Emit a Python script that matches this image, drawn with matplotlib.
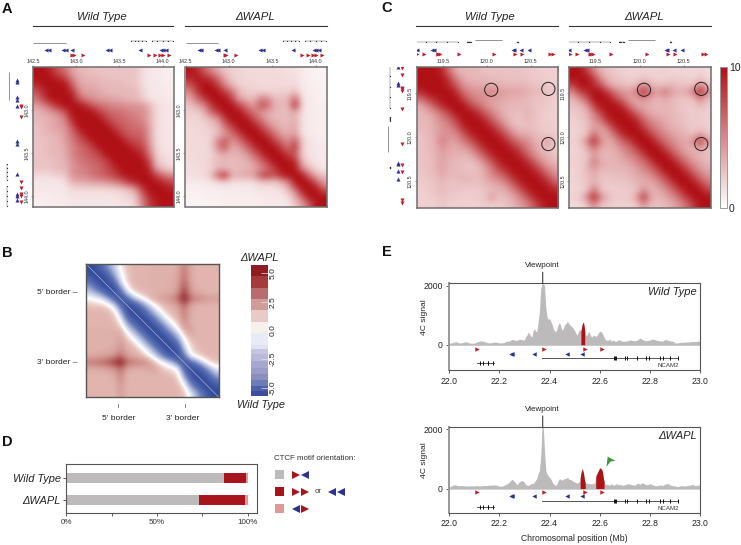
import numpy as np
import matplotlib
matplotlib.use("Agg")
import matplotlib.pyplot as plt
from matplotlib.colors import LinearSegmentedColormap, ListedColormap, BoundaryNorm

plt.rcParams["font.family"] = ["Liberation Sans", "DejaVu Sans"]

W, H = 741, 545

# ── Hi-C maps, upper triangles (0-10) ─────────────────────────────────────────
a_wt = [
    [10, 10, 9, 7, 6, 4, 3, 3, 2.5, 2.5, 2.5, 2.5, 2.5, 2.5, 2.5, 1.5, 1, 1, .8, .6],
    [10, 10, 9, 8, 5, 3.5, 3, 3, 3, 2.5, 2.5, 2.5, 2.5, 2.5, 1.5, 1, 1, .8, .8],
    [10, 10, 10, 7, 4, 3.5, 3.5, 3, 3, 3, 3, 2.5, 2.5, 1.5, 1, 1, .8, .8],
    [10, 10, 9, 5, 4, 4, 3.5, 3, 3, 3, 3, 3, 2, 1, 1, 1, .8],
    [10, 10, 7, 5, 4.5, 4, 4, 3.5, 3.5, 3, 3, 2, 1.2, 1, 1, .8],
    [10, 10, 9, 7, 6, 5.5, 5, 5, 4.5, 4.5, 4.5, 3, 1.5, 1.2, 1],
    [10, 10, 10, 8, 7, 6, 6, 5.5, 5, 5, 3.5, 1.5, 1.2, 1],
    [10, 10, 10, 8, 7, 6.5, 6, 5.5, 5, 3.5, 1.5, 1.2, 1],
    [10, 10, 10, 8, 7, 6.5, 6, 6, 4, 1.5, 1.2, 1],
    [10, 10, 10, 8, 7, 6.5, 6.5, 4, 1.5, 1.2, 1],
    [10, 10, 10, 8, 7.5, 7, 4.5, 1.5, 1.2, 1],
    [10, 10, 10, 8.5, 8, 5, 1.6, 1.2, 1],
    [10, 10, 10, 9, 6, 2, 1.5, 1.2],
    [10, 10, 10, 8, 2.5, 1.8, 1.2],
    [10, 10, 9, 4, 2.5, 1.8],
    [10, 10, 8, 6, 5],
    [10, 10, 9, 8],
    [10, 10, 9.5],
    [10, 10],
    [10],
]
a_wapl = [
    [10, 9, 7, 5, 3.5, 2.5, 2, 1.8, 1.6, 1.6, 1.6, 1.5, 1.5, 1.5, 1.3, 1.3, .8, .7, .6, .5],
    [10, 9, 8, 6, 3.5, 2, 1.8, 1.6, 1.6, 1.6, 1.5, 1.5, 1.6, 1.4, 1.5, .8, .7, .6, .5],
    [10, 10, 8, 5, 3, 2, 1.8, 1.7, 1.6, 1.6, 1.6, 1.6, 1.5, 1.6, .9, .7, .6, .6],
    [10, 10, 8, 6, 3, 2.2, 2, 1.8, 1.8, 1.8, 2, 1.8, 2.5, 1, .8, .7, .6],
    [10, 10, 8, 4, 3, 2.6, 5, 5, 2.8, 2.8, 3, 6.5, 1.2, .8, .7, .6],
    [10, 10, 8, 6, 4, 7, 7, 3.5, 3, 3, 9, 1.5, .9, .8, .7],
    [10, 10, 8, 6, 4.5, 3.5, 3, 2.8, 2.8, 3.5, 1.2, .8, .8, .7],
    [10, 10, 8, 6, 4, 3.2, 3, 2.8, 3.5, 1.2, .9, .8, .7],
    [10, 10, 8, 6, 4, 3.2, 3, 3.8, 1.2, .9, .8, .7],
    [10, 10, 8, 6, 4, 3.5, 4, 1.2, .9, .8, .7],
    [10, 10, 8, 6, 4.5, 7, 2, 1.2, .9, .8],
    [10, 10, 8, 6, 8.5, 2, 1.2, 1, .9],
    [10, 10, 8, 7, 2, 1.2, 1, .9],
    [10, 10, 9, 3, 1.5, 1, .9],
    [10, 10, 5, 3, 1.5, 1],
    [10, 10, 6, 3.5, 2.5],
    [10, 10, 7, 4],
    [10, 10, 7],
    [10, 10],
    [10],
]
c_wt = [
    [10, 10, 10, 9, 6, 3.5, 3, 3, 3, 2.5, 2.5, 2.5, 2.5, 2.5, 2.5, 2.2, 2.2, 2, 2, 2],
    [10, 10, 10, 8, 5, 3.5, 3, 3, 3, 2.8, 2.8, 2.6, 2.6, 2.6, 2.5, 2.2, 2.2, 2, 2],
    [10, 10, 9, 7, 4.5, 3.8, 3.5, 3.5, 3.2, 3.2, 3, 3, 3, 2.8, 2.5, 2.5, 2.2, 2],
    [10, 10, 9, 6, 5, 4.5, 4.5, 5.5, 4.5, 4, 4, 4, 3.5, 3, 3, 2.5, 2.5],
    [10, 10, 8, 6, 5, 4.5, 4, 3.8, 3.5, 3.2, 3, 3, 2.5, 2.5, 2.2, 2],
    [10, 10, 8, 6.5, 5, 4, 3.5, 3.2, 3, 3, 3, 2.5, 2.5, 2.2, 2],
    [10, 10, 9, 7, 5.5, 4, 3, 2.8, 2.6, 3.2, 2.8, 2.2, 2, 2],
    [10, 10, 9, 7, 5, 3.5, 2.6, 2.4, 3, 2.6, 2.2, 2, 2],
    [10, 10, 9, 7, 5, 3.2, 2.6, 2.8, 2.6, 2.2, 2.2, 2],
    [10, 10, 9, 7, 5, 3.5, 3.5, 3, 2.5, 2.2, 2.2],
    [10, 10, 9, 7, 5.5, 5, 3.5, 2.8, 4.5, 2],
    [10, 10, 9, 7.5, 5.5, 4, 3.2, 2.5, 2.2],
    [10, 10, 9, 7, 5, 3.5, 3, 2.5],
    [10, 10, 9, 7, 5, 3.5, 3],
    [10, 10, 9, 7, 5, 4],
    [10, 10, 9, 7, 5],
    [10, 10, 9, 7],
    [10, 10, 9],
    [10, 10],
    [10],
]
c_wapl = [
    [10, 10, 8, 5, 3, 2.5, 2.2, 2, 1.8, 1.8, 2, 1.8, 1.8, 2, 1.8, 1.8, 1.8, 1.6, 2, 1.5],
    [10, 10, 8, 4.5, 3, 2.4, 2.2, 2, 2, 2.2, 2, 2, 2, 2, 2, 2, 1.8, 2.2, 1.6],
    [10, 9, 7, 4, 3, 2.8, 2.5, 2.5, 5, 3, 2.5, 2.5, 3, 2.5, 2.5, 2.2, 5, 2.2],
    [10, 10, 8, 5.5, 4.5, 4, 6, 9, 6, 4, 6, 4, 3.5, 3.5, 6, 9.5, 5],
    [10, 10, 8, 6, 4, 3.5, 5, 3.5, 3, 3.5, 3, 2.5, 2.5, 2.5, 5, 2.5],
    [10, 10, 9, 6, 4, 3.5, 3.2, 3, 3.2, 3, 2.5, 2.2, 2.2, 3, 2.2],
    [10, 10, 9, 6.5, 4.5, 3.5, 3.2, 3.2, 3, 2.6, 2.4, 2, 2.2, 2],
    [10, 10, 9, 6.5, 5, 4, 3.5, 3, 2.8, 2.4, 2.2, 2.2, 2],
    [10, 10, 8, 6, 5, 4, 3.2, 3, 2.6, 2.2, 2.2, 2],
    [10, 10, 8, 6, 5, 4, 3.5, 3, 2.5, 4, 2.2],
    [10, 10, 8, 6, 5, 4, 3.5, 5, 8.5, 4.5],
    [10, 10, 8, 6, 4.5, 3.5, 3, 4, 2.6],
    [10, 10, 8, 6, 4.5, 3.5, 3, 2.6],
    [10, 10, 8, 6, 4.5, 3.5, 3],
    [10, 10, 8, 6, 4.5, 3.5],
    [10, 10, 8, 6, 4.5],
    [10, 10, 8, 6],
    [10, 10, 8],
    [10, 10],
    [10],
]
# aggregate map of panel B, log2 difference
b_delta = [
    [-5.7, -5.2, -4, -2.6, -1.2, .2, 1.2, 1.5, 1.5, 1.5, 1.6, 1.6, 1.6, 1.6, 1.8, 3, 1.8, 1.5, 1.5, 1.5, 1.5],
    [-5.7, -5.2, -4, -2, -.2, 1.0, 1.5, 1.5, 1.5, 1.6, 1.6, 1.6, 1.6, 1.8, 3.2, 1.8, 1.5, 1.5, 1.5, 1.5],
    [-5.7, -5.2, -3.2, -.6, .9, 1.5, 1.5, 1.5, 1.6, 1.6, 1.6, 1.7, 1.9, 3.4, 1.9, 1.5, 1.5, 1.5, 1.5],
    [-5.7, -5, -2, .3, 1.4, 1.5, 1.5, 1.6, 1.6, 1.6, 1.7, 2, 4, 2, 1.6, 1.5, 1.5, 1.5],
    [-5.7, -4.2, -1, .5, 1.2, 1.5, 1.6, 1.6, 1.7, 1.8, 2.4, 4.8, 2.4, 1.8, 1.6, 1.5, 1.5],
    [-5.7, -4.2, -2, -.6, .5, 1.6, 2, 2.2, 2.5, 3.4, 5.75, 3.4, 2.8, 2.5, 2.2, 2.2],
    [-5.7, -5.2, -3.8, -2, -.4, .8, 1.5, 1.7, 2, 3.6, 1.9, 1.5, 1.5, 1.5, 1.5],
    [-5.7, -5.2, -3.8, -2, -.4, .8, 1.5, 1.8, 3, 1.7, 1.5, 1.5, 1.5, 1.5],
    [-5.7, -5.2, -3.8, -2, -.4, .8, 1.5, 2.8, 1.7, 1.5, 1.5, 1.5, 1.5],
    [-5.7, -5.2, -3.8, -2, -.4, .8, 2.6, 1.7, 1.5, 1.5, 1.5, 1.5],
    [-5.7, -5.2, -3.8, -2, -.4, 1.6, 2.2, 1.5, 1.5, 1.5, 1.5],
    [-5.7, -5.2, -3.8, -2, .3, 1.6, 1.5, 1.5, 1.5, 1.5],
    [-5.7, -5.2, -3.8, -.5, .8, 1.5, 1.5, 1.5, 1.5],
    [-5.7, -5.2, -1.6, .5, 1.2, 1.5, 1.5, 1.5],
    [-5.7, -3.6, -.2, .6, 1.2, 1.5, 1.5],
    [-5.7, -4.2, -2.6, -.8, .6, 1.2],
    [-5.7, -5.2, -3.8, -2, -.4],
    [-5.7, -5.2, -3.8, -2],
    [-5.7, -5.2, -3.8],
    [-5.7, -5.2],
    [-5.7],
]
b_bounds = [-5.73, -5.3, -4.85, -4.32, -3.82, -3.24, -2.65, -2.06, -1.6, -1.24, -.2, .74, 1.76, 2.76, 3.76, 4.76, 5.73]
b_colors = ["#3a4f9e", "#4f60a8", "#6c7cb8", "#8a8fc0", "#9a9dc8", "#a6a8d0", "#b9b9da", "#c5c5e0",
            "#dfe4f3", "#e8ebf5", "#f7f1ee", "#e8cbc9", "#cf9c99", "#b86c6d", "#a5393c", "#8e1c22"]

# ── Motifs and genes (Mb) ─────────────────────────────────────────────────────
a_blue = [142.65, 142.68, 142.85, 142.88, 142.95, 143.36, 143.39, 143.74, 143.98, 144.0, 144.04]
a_red = [142.95, 142.97, 143.08, 143.84, 143.91, 143.97, 144.0, 144.07]
a_scale = [(142.5, 142.88)]
a_genes = [(143.63, 143.81), (143.88, 144.12)]
c_blue = [119.2, 119.38, 119.4, 120.3, 120.31, 120.39, 120.48]
c_red = [119.21, 119.29, 119.44, 119.45, 119.47, 119.68, 120.08, 120.32, 120.4, 120.72, 120.75]
c_scale = [(119.87, 120.17)]
c_genes = [(119.18, 119.67), (119.77, 119.82), (120.345, 120.355)]
c_circles = [(120.05, 119.46), (120.7, 119.45), (120.7, 120.08)]

# ── Panel D ───────────────────────────────────────────────────────────────────
d_labels = ["\u0394WAPL", "Wild Type"]
d_gray = [73.1, 86.9]
d_red = [25.2, 12.0]
d_pink = [1.7, 1.1]

# ── 4C signal ─────────────────────────────────────────────────────────────────
e_x = [22.00, 22.01, 22.02, 22.03, 22.04, 22.05, 22.06, 22.07, 22.08, 22.09,
       22.10, 22.11, 22.12, 22.13, 22.14, 22.15, 22.16, 22.17, 22.18, 22.19,
       22.20, 22.21, 22.22, 22.23, 22.24, 22.25, 22.26, 22.27, 22.28, 22.29,
       22.300, 22.305, 22.310, 22.315, 22.320, 22.325, 22.330, 22.335, 22.340, 22.345,
       22.350, 22.355, 22.360, 22.365, 22.370, 22.375, 22.380, 22.385, 22.390, 22.395,
       22.400, 22.405, 22.410, 22.415, 22.420, 22.425, 22.430, 22.435, 22.440, 22.445,
       22.450, 22.455, 22.460, 22.465, 22.470, 22.475, 22.480, 22.485, 22.490, 22.495,
       22.500, 22.505, 22.510, 22.515, 22.520, 22.525, 22.530, 22.535, 22.540, 22.545,
       22.550, 22.555, 22.560, 22.565, 22.570, 22.575, 22.580, 22.585, 22.590, 22.595,
       22.600, 22.605, 22.610, 22.615, 22.620, 22.625, 22.630, 22.635, 22.640, 22.645,
       22.650, 22.655, 22.660, 22.665, 22.670, 22.675, 22.680, 22.685, 22.690, 22.695,
       22.70, 22.71, 22.72, 22.73, 22.74, 22.75, 22.76, 22.77, 22.78, 22.79,
       22.80, 22.81, 22.82, 22.83, 22.84, 22.85, 22.86, 22.87, 22.88, 22.89,
       22.90, 22.91, 22.92, 22.93, 22.94, 22.95, 22.96, 22.97, 22.98, 22.99, 23.00]
e_wt = [60, 70, 100, 110, 70, 70, 100, 110, 70, 60,
        60, 100, 130, 140, 110, 90, 70, 80, 100, 90,
        70, 70, 90, 130, 130, 190, 170, 150, 200, 180,
        170, 280, 330, 430, 380, 300, 280, 480, 550, 450,
        480, 800, 1150, 1900, 2050, 2080, 2000, 1300, 950, 860,
        900, 800, 700, 550, 480, 450, 550, 700, 760, 620,
        500, 560, 680, 720, 790, 760, 680, 650, 600, 560,
        480, 400, 330, 450, 520, 480, 700, 780, 500, 320,
        340, 470, 380, 290, 280, 340, 310, 290, 330, 420,
        460, 450, 400, 290, 210, 170, 160, 170, 200, 130,
        160, 150, 130, 120, 150, 180, 170, 140, 130, 120,
        130, 140, 170, 150, 140, 170, 240, 180, 150, 150,
        170, 200, 180, 150, 140, 130, 190, 160, 140, 130,
        70, 70, 90, 90, 100, 100, 110, 120, 110, 130, 120]
e_wapl = [60, 90, 130, 120, 100, 110, 100, 90, 90, 100,
          90, 110, 90, 100, 110, 110, 120, 120, 130, 110,
          90, 80, 120, 160, 220, 320, 250, 130, 230, 280,
          220, 130, 120, 110, 130, 170, 180, 170, 230, 290,
          360, 520, 620, 1100, 2080, 2080, 1300, 620, 500, 430,
          380, 330, 240, 170, 130, 110, 170, 280, 340, 300,
          290, 310, 350, 340, 380, 350, 300, 320, 270, 250,
          220, 200, 190, 210, 260, 520, 680, 530, 250, 180,
          190, 170, 170, 160, 170, 170, 200, 440, 530, 620,
          700, 680, 600, 310, 170, 130, 160, 120, 130, 170,
          140, 120, 130, 170, 150, 130, 150, 130, 110, 130,
          120, 170, 150, 130, 120, 190, 150, 200, 150, 130,
          170, 130, 100, 100, 130, 110, 150, 180, 120, 100,
          90, 70, 100, 100, 90, 110, 120, 150, 100, 120, 130]
e_red_wt = [(22.525, 22.54)]
e_red_wapl = [(22.522, 22.542), (22.584, 22.617)]
e_motif_red = [22.113, 22.38, 22.542, 22.61]
e_motif_blue = [22.245, 22.25, 22.339, 22.47, 22.53]
ncam2 = (22.37, 22.911)
ncam2_exons = [22.655, 22.66, 22.665, 22.699, 22.709, 22.748, 22.785, 22.794, 22.841, 22.85, 22.88, 22.911]
gene2 = (22.113, 22.18)
gene2_exons = [22.123, 22.135, 22.154, 22.157, 22.177]

RED = "#b01116"
BLUE = "#2e3192"
MOTIF_RED = "#be1e2d"
GRAY = "#bcbaba"
FRAME = "#6e6e6e"
hic_cmap = LinearSegmentedColormap.from_list("hic", ["#ffffff", RED])
delta_cmap = LinearSegmentedColormap.from_list(
    "delta",
    [(0.0, "#2c479b"), (0.2, "#6478b8"), (0.42, "#d8ddef"), (0.5, "#ffffff"),
     (0.6, "#e8c2bc"), (0.72, "#cf8f8a"), (1.0, "#8a141a")])

fig = plt.figure(figsize=(W / 100, H / 100), dpi=100)


def ax_px(x0, y0, x1, y1, **kw):
    return fig.add_axes([x0 / W, 1 - y1 / H, (x1 - x0) / W, (y1 - y0) / H], **kw)


def mirror(rows):
    n = len(rows)
    m = np.zeros((n, n))
    for i, row in enumerate(rows):
        m[i, i:] = row
        m[i:, i] = row
    return m


def style_frame(ax, color=FRAME, lw=1.1):
    for s in ax.spines.values():
        s.set_color(color)
        s.set_linewidth(lw)


def hic(box, rows, lim, xticks, yticks, circles=None):
    ax = ax_px(*box)
    im = ax.imshow(mirror(rows), cmap=hic_cmap, vmin=0, vmax=10, interpolation="bicubic",
                   extent=(lim[0], lim[1], lim[1], lim[0]), aspect="auto")
    ax.xaxis.tick_top()
    ax.set_xticks(xticks)
    ax.set_yticks(yticks)
    ax.set_xticklabels([f"{t:.1f}" for t in xticks])
    ax.set_yticklabels([f"{t:.1f}" for t in yticks], rotation=90, va="center")
    ax.tick_params(length=1.5, width=.4, labelsize=3.9, pad=1, color="#555555", labelcolor="#333333")
    style_frame(ax)
    if circles:
        for c in circles:
            ax.add_patch(plt.Circle(c, 0.075, fill=False, ec="#222222", lw=.7))
    return ax, im


def seg_h(ax, segs, y, dotted=False):
    for a, b in segs:
        ax.plot([a, b], [y, y], color="#666666", lw=.35 if dotted else .5, solid_capstyle="butt")
        if dotted:
            ax.plot([a, a + (b - a) * .25, a + (b - a) * .5, a + (b - a) * .75, b], [y] * 5,
                    ls="none", marker="s", ms=.8, color="#333333", mew=0)


def seg_v(ax, segs, x, dotted=False):
    for a, b in segs:
        ax.plot([x, x], [a, b], color="#666666", lw=.35 if dotted else .5, solid_capstyle="butt")
        if dotted:
            ax.plot([x] * 5, [a, a + (b - a) * .25, a + (b - a) * .5, a + (b - a) * .75, b],
                    ls="none", marker="s", ms=.8, color="#333333", mew=0)


def top_track(x0, x1, lim, blue, red, scale, genes, y_scale, y_gene, y_blue, y_red):
    ax = ax_px(x0, 34, x1, 62)
    ax.set_xlim(lim)
    ax.set_ylim(62, 34)
    ax.axis("off")
    seg_h(ax, scale, y_scale)
    seg_h(ax, genes, y_gene, dotted=True)
    ax.plot(blue, [y_blue] * len(blue), "<", color=BLUE, ms=2.9, mew=0, ls="none")
    ax.plot(red, [y_red] * len(red), ">", color=MOTIF_RED, ms=2.9, mew=0, ls="none")


def left_track(x0, x1, y0, y1, lim, blue, red, scale, genes, x_scale, x_gene, x_blue, x_red):
    ax = ax_px(x0, y0, x1, y1)
    ax.set_xlim(x0, x1)
    ax.set_ylim(lim[1], lim[0])
    ax.axis("off")
    seg_v(ax, scale, x_scale)
    seg_v(ax, genes, x_gene, dotted=True)
    ax.plot([x_blue] * len(blue), blue, "^", color=BLUE, ms=2.9, mew=0, ls="none")
    ax.plot([x_red] * len(red), red, "v", color=MOTIF_RED, ms=2.9, mew=0, ls="none")


# ── Panel A ───────────────────────────────────────────────────────────────────
a_lim = (142.5, 144.126)
a_xticks = [142.5, 143.0, 143.5, 144.0]
a_yticks = [143.0, 143.5, 144.0]
hic((33, 67, 173.5, 207), a_wt, a_lim, a_xticks, a_yticks)
hic((185.5, 67, 326.5, 207), a_wapl, a_lim, a_xticks, a_yticks)
top_track(33, 173.5, a_lim, a_blue, a_red, a_scale, a_genes, 43, 41, 50.3, 55)
top_track(185.5, 326.5, a_lim, a_blue, a_red, a_scale, a_genes, 43, 41, 50.3, 55)
left_track(0, 30, 67, 207, a_lim, a_blue, a_red, [(142.56, 142.88)], a_genes, 9, 7, 16.7, 21)

# ── Panel C ───────────────────────────────────────────────────────────────────
c_lim = (119.2, 120.81)
c_ticks = [119.5, 120.0, 120.5]
_, im_c = hic((416.5, 67, 558, 208), c_wt, c_lim, c_ticks, c_ticks, c_circles)
hic((569, 67, 711, 208), c_wapl, c_lim, c_ticks, c_ticks, c_circles)
top_track(416.5, 558, c_lim, c_blue, c_red, c_scale, c_genes, 40, 42.3, 49.6, 54.3)
top_track(569, 711, c_lim, c_blue, c_red, c_scale, c_genes, 40, 42.3, 49.6, 54.3)
left_track(380, 410, 67, 208, c_lim, c_blue, c_red, c_scale, c_genes, 387.7, 390, 398, 402.3)

cax = ax_px(719.5, 67, 727, 208)
cb = fig.colorbar(im_c, cax=cax, ticks=[0, 10])
cb.ax.tick_params(length=0, labelsize=7.5, pad=1.5, labelcolor="#222222")
cb.outline.set_edgecolor("#999999")
cb.outline.set_linewidth(.7)

# ── Panel B ───────────────────────────────────────────────────────────────────
ax_b = ax_px(86, 264, 218.5, 397)
ax_b.imshow(mirror(b_delta), cmap=delta_cmap, vmin=-5.75, vmax=5.75, interpolation="bicubic",
            extent=(0, 1, 1, 0), aspect="auto")
ax_b.plot([0, 1], [0, 1], color="#d9c4c8", lw=.5, alpha=.8)
ax_b.set_xticks([.244, .733])
ax_b.set_xticklabels(["5' border", "3' border"])
ax_b.set_yticks([.21, .73])
ax_b.set_yticklabels(["5' border \u2013", "3' border \u2013"])
ax_b.tick_params(length=0, labelsize=6.1, labelcolor="#222222")
ax_b.tick_params(axis="x", pad=13)
ax_b.tick_params(axis="y", pad=6)
style_frame(ax_b, "#555555", 1.0)

ax_bc = ax_px(251, 265, 267.5, 396)
ax_bc.pcolormesh([0, 1], b_bounds, np.arange(len(b_colors)).reshape(-1, 1),
                 cmap=ListedColormap(b_colors),
                 norm=BoundaryNorm(np.arange(len(b_colors) + 1) - .5, len(b_colors)))
ax_bc.set_xticks([])
ax_bc.yaxis.tick_right()
ax_bc.set_yticks([-5, -2.5, 0, 2.5, 5])
ax_bc.set_yticklabels(["-5.0", "-2.5", "0.0", "2.5", "5.0"], rotation=90, va="center")
ax_bc.tick_params(axis="y", direction="in", length=5, width=.5, color="#e6e6e6",
                  labelsize=6, pad=1.5, labelcolor="#222222")
for s in ax_bc.spines.values():
    s.set_visible(False)

# ── Panel D ───────────────────────────────────────────────────────────────────
ax_d = ax_px(66.3, 464, 257, 513)
ax_d.barh([0, 1], d_gray, height=.45, color=GRAY)
ax_d.barh([0, 1], d_red, left=d_gray, height=.45, color="#a8141b")
ax_d.barh([0, 1], d_pink, left=np.add(d_gray, d_red), height=.45, color="#e09797")
ax_d.set_xlim(0, 105.1)
ax_d.set_ylim(-.583, 1.614)
ax_d.set_xticks([0, 25, 50, 75, 100])
ax_d.set_xticklabels(["0%", "", "50%", "", "100%"])
ax_d.set_yticks([0, 1])
ax_d.set_yticklabels(d_labels, fontstyle="italic", fontsize=7.9, color="#222222")
ax_d.tick_params(axis="x", length=2.5, width=.6, labelsize=5.8, pad=2, color="#444444", labelcolor="#333333")
ax_d.tick_params(axis="y", length=2.5, width=.6, pad=1.5, color="#444444")
style_frame(ax_d, "#555555", .8)

# ── Panel E ───────────────────────────────────────────────────────────────────


def signal(box, y0_px, y2000_px, values, red_spans, name, y_motif, y_name):
    ax = ax_px(*box)
    per_px = 2000 / (y0_px - y2000_px)
    ax.set_xlim(22, 23)
    ax.set_ylim((y0_px - box[3]) * per_px, (y0_px - box[1]) * per_px)
    x = np.array(e_x)
    y = np.array(values, dtype=float)
    ax.fill_between(x, 0, y, color=GRAY, lw=0)
    for a, b in red_spans:
        xs = np.concatenate([[a], x[(x > a) & (x < b)], [b]])
        ax.fill_between(xs, 0, np.interp(xs, x, y), color=RED, lw=0)
    ax.axhline(0, color=GRAY, lw=.4)
    ax.plot(e_motif_red, [y_motif[0]] * len(e_motif_red), ">", color=MOTIF_RED, ms=3.2, mew=0, ls="none")
    ax.plot(e_motif_blue, [y_motif[1]] * len(e_motif_blue), "<", color=BLUE, ms=3.2, mew=0, ls="none")
    ax.plot(ncam2, [y_motif[2]] * 2, color="#555555", lw=.7)
    ax.plot(ncam2_exons, [y_motif[2]] * len(ncam2_exons), "|", color="#111111", ms=3, mew=.7)
    ax.plot(gene2, [y_motif[3]] * 2, color="#333333", lw=.6)
    ax.plot(gene2_exons, [y_motif[3]] * len(gene2_exons), "|", color="#111111", ms=3, mew=.7)
    ax.text(22.915, y_name, "NCAM2", fontsize=4.4, ha="right", va="center", color="#333333")
    ax.set_xticks([22.0, 22.2, 22.4, 22.6, 22.8, 23.0])
    ax.set_xticklabels(["22.0", "22.2", "22.4", "22.6", "22.8", "23.0"])
    ax.set_yticks([0, 2000])
    ax.tick_params(length=2.5, width=.6, labelsize=6.2, pad=2, color="#444444", labelcolor="#222222")
    ax.set_ylabel("4C signal", fontsize=6.1, labelpad=0, color="#222222")
    ax.yaxis.set_label_coords((427.7 - box[0]) / (box[2] - box[0]), .61)
    style_frame(ax, "#555555", .8)
    ax.spines["left"].set_color("#999999")
    ax.spines["left"].set_linewidth(1.4)
    ax.annotate("Viewpoint", xy=(22.373, 1), xycoords=("data", "axes fraction"), xytext=(0, 10),
                textcoords="offset points", ha="center", va="bottom", fontsize=5.8, color="#222222",
                arrowprops=dict(arrowstyle="-", lw=.7, color="#222222", shrinkA=0, shrinkB=0))
    ax.text(.987, .9, name, transform=ax.transAxes, ha="right", va="center", fontstyle="italic",
            fontsize=8, color="#222222")
    return ax


signal((449, 283.3, 700.3, 370.3), 345, 285.7, e_wt, e_red_wt, "Wild Type", (-145, -293, -428, -607), -698)
ax_e2 = signal((449, 427, 700.3, 513), 488.7, 429.3, e_wapl, e_red_wapl, "\u0394WAPL", (-100, -236, -415, -607), -661)
ax_e2.set_xlabel("Chromosomal position (Mb)", fontsize=6.2, labelpad=4, color="#222222")
ax_e2.plot([22.641], [944], marker=[(-10, -13), (-7, 12), (12, 2), (0, 0)], ms=7.5, color="#3a9a3a", mew=0, ls="none")

# ── Overlay, pixel coordinates: titles, rules, legend ─────────────────────────
ov = fig.add_axes([0, 0, 1, 1], zorder=10)
ov.set_xlim(0, W)
ov.set_ylim(H, 0)
ov.axis("off")

for letter, x, y in [("A", 7, 9), ("C", 387, 8), ("B", 7, 253), ("D", 7, 442), ("E", 387, 252)]:
    ov.text(x, y, letter, fontsize=10.5, fontweight="bold", ha="center", va="center", color="#111111")

for label, x0, x1, tx in [("Wild Type", 33, 173, 102), ("\u0394WAPL", 185, 327, 255),
                          ("Wild Type", 416, 558, 490), ("\u0394WAPL", 569, 711, 644)]:
    ov.text(tx, 17, label, fontsize=8.2, fontstyle="italic", ha="center", va="center", color="#222222")
    ov.plot([x0, x1], [26, 26], color="#333333", lw=.8)

ov.text(259.5, 258, "\u0394WAPL", fontsize=7.9, fontstyle="italic", ha="center", va="center", color="#222222")
ov.text(261, 404.5, "Wild Type", fontsize=7.9, fontstyle="italic", ha="center", va="center", color="#222222")
ov.plot([118, 118], [403.5, 406.5], color="#444444", lw=.5)
ov.plot([184.5, 184.5], [403.5, 406.5], color="#444444", lw=.5)

ov.text(274, 459, "CTCF motif orientation:", fontsize=5.7, va="center", color="#333333")
for y, c in [(474.5, GRAY), (491.5, "#a8141b"), (508.5, "#e09797")]:
    ov.add_patch(plt.Rectangle((275, y - 4.5), 9, 9, color=c, lw=0))
ov.plot([296], [474.5], ">", color="#a8141b", ms=5.5, mew=0)
ov.plot([305], [474.5], "<", color=BLUE, ms=5.5, mew=0)
ov.plot([296, 305], [491.5, 491.5], ">", color="#a8141b", ms=5.5, mew=0, ls="none")
ov.text(318, 491.5, "or", fontsize=5.7, ha="center", va="center", color="#333333")
ov.plot([332, 341], [491.5, 491.5], "<", color=BLUE, ms=5.5, mew=0, ls="none")
ov.plot([296], [508.5], "<", color=BLUE, ms=5.5, mew=0)
ov.plot([305], [508.5], ">", color="#a8141b", ms=5.5, mew=0)

fig.savefig("out.png", dpi=100)
